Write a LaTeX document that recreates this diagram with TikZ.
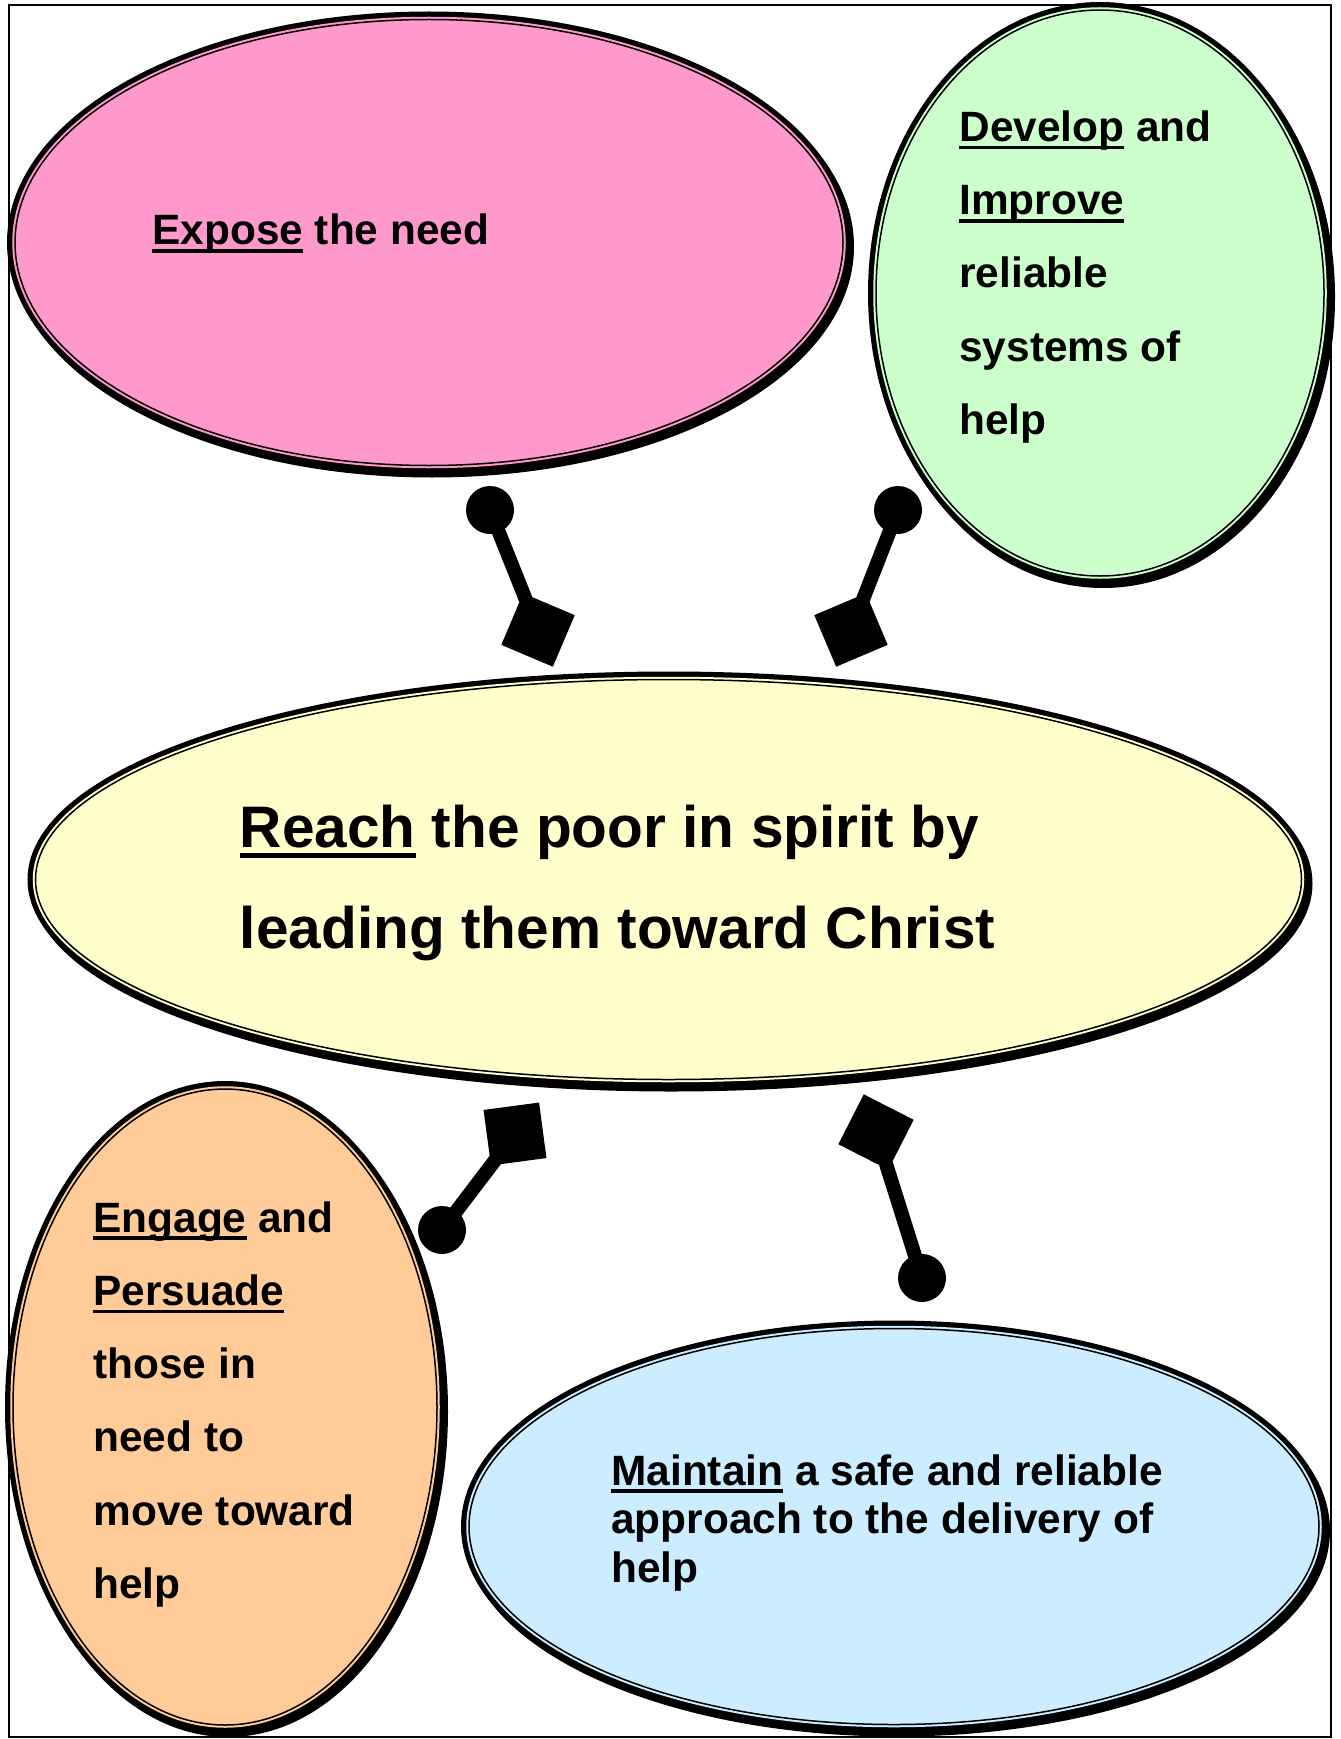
\documentclass[tikz,border=0pt]{standalone}
\usepackage{fontspec}
\setmainfont{Liberation Sans}
\usetikzlibrary{shapes.geometric}

\definecolor{rose}{HTML}{FF99CC}
\definecolor{mint}{HTML}{CCFFCC}
\definecolor{cream}{HTML}{FFFFCC}
\definecolor{peach}{HTML}{FFCC99}
\definecolor{sky}{HTML}{CCECFF}

\newcommand{\ulword}[1]{\setbox0\hbox{#1}\rlap{\rule[-0.19em]{\wd0}{0.09em}}\box0\relax}

\tikzset{
  blob/.style={ellipse, inner sep=0pt, fill=#1, draw=black, line width=0.75pt,
    preaction={transform canvas={shift={(1.5pt,-2pt)}}, fill=black, draw=black, line width=8pt},
    preaction={draw=black, line width=8pt},
    preaction={draw=#1, line width=2.75pt}},
  say/.style={anchor=base west, inner sep=0pt, align=left, font=\bfseries\fontsize{21.2}{36.65}\selectfont},
  knob/.style={circle, fill=black, inner sep=0pt, minimum size=24pt},
  plug/.style={rectangle, fill=black, inner sep=0pt, minimum size=28pt},
  stem/.style={line width=7pt}
}

\begin{document}
\begin{tikzpicture}[x=0.5pt, y=-0.5pt]
    \useasboundingbox (0,0) rectangle (1340,1739);
    \draw[line width=0.6pt] (9,5) rectangle (1331,1737);

    \node[blob=rose, minimum width=414pt, minimum height=223pt] (expose) at (429,242.5) {};
    \node[blob=mint, minimum width=224pt, minimum height=283pt] (develop) at (1100,293) {};
    \node[blob=cream, minimum width=633pt, minimum height=200pt] (reach) at (668.5,879.5) {};
    \node[blob=peach, minimum width=212pt, minimum height=318pt] (engage) at (225,1407) {};
    \node[blob=sky, minimum width=425pt, minimum height=198pt] (maintain) at (894,1526.5) {};

    % base anchor sits on the last line
    \node[say] (exposetext) at (152,245) {\ulword{Expose} the need};
    \node[say] (developtext) at (959,434.5) {\ulword{Develop} and\\\ulword{Improve}\\reliable\\systems of\\help};
    \node[say, font=\bfseries\fontsize{29.3}{50.5}\selectfont] (reachtext) at (239.5,948) {\ulword{Reach} the poor in spirit by\\leading them toward Christ};
    \node[say] (engagetext) at (93,1598.5) {\ulword{Engage} and\\\ulword{Persuade}\\those in\\need to\\move toward\\help};
    \node[say, font=\bfseries\fontsize{21.2}{24.25}\selectfont] (maintaintext) at (611,1582) {\ulword{Maintain} a safe and reliable\\approach to the delivery of\\help};

    \node[knob] (k1) at (490,510) {};
    \node[plug, rotate=-23] (p1) at (538,630) {};
    \node[knob] (k2) at (898,510) {};
    \node[plug, rotate=23] (p2) at (851,630) {};
    \node[knob] (k3) at (442,1230) {};
    \node[plug, rotate=7.6] (p3) at (515,1134) {};
    \node[knob] (k4) at (922,1278) {};
    \node[plug, rotate=-27] (p4) at (876,1132) {};
    \foreach \i in {1,...,4} \draw[stem] (k\i.center) -- (p\i.center);
\end{tikzpicture}
\end{document}
